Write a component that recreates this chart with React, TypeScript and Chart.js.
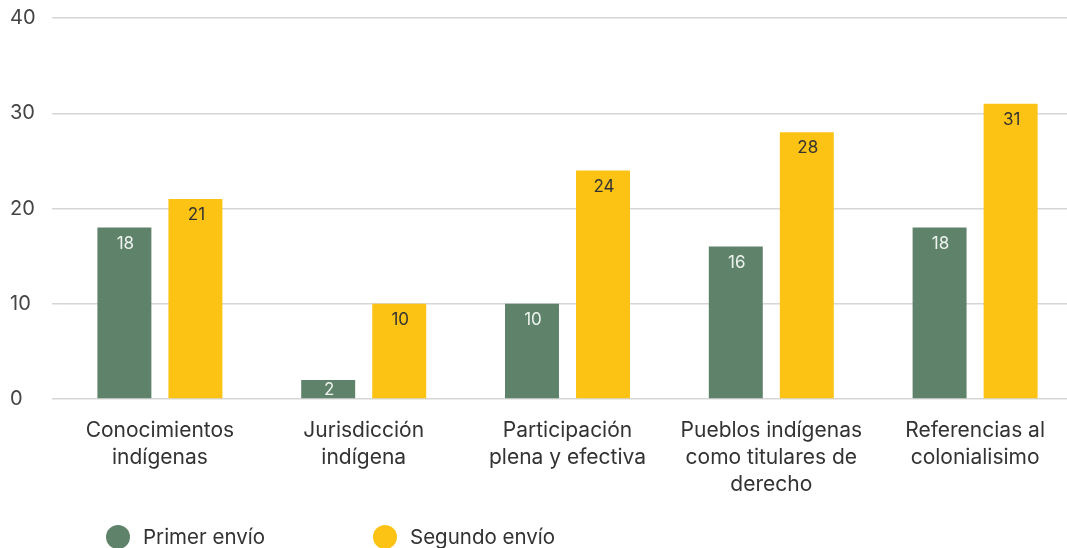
import React, { useEffect, useRef } from "react";
import { Chart, registerables } from "chart.js";

Chart.register(...registerables);

const categories: string[][] = [
  ["Conocimientos", "indígenas"],
  ["Jurisdicción", "indígena"],
  ["Participación", "plena y efectiva"],
  ["Pueblos indígenas", "como titulares de", "derecho"],
  ["Referencias al", "colonialisimo"],
];
const primerEnvio = [18, 2, 10, 16, 18];
const segundoEnvio = [21, 10, 24, 28, 31];
const seriesNames = ["Primer envío", "Segundo envío"];
const yTicks = [0, 10, 20, 30, 40];

const GREEN = "#5f836a";
const YELLOW = "#fdc314";
const FONT = "Inter, Roboto, 'Noto Sans', sans-serif";
const labelColors = ["#eef3ef", "#333333"];

const valueLabels = {
  id: "valueLabels",
  afterDatasetsDraw(chart: any) {
    const ctx = chart.ctx;
    ctx.save();
    ctx.font = `17px ${FONT}`;
    ctx.textAlign = "center";
    ctx.textBaseline = "middle";
    chart.data.datasets.forEach((ds: any, i: number) => {
      const meta = chart.getDatasetMeta(i);
      meta.data.forEach((bar: any, j: number) => {
        const top = bar.y;
        const base = bar.base;
        const y = Math.min(top + 16, (top + base) / 2 + 1);
        ctx.fillStyle = labelColors[i];
        ctx.fillText(String(ds.data[j]), bar.x + 1, y);
      });
    });
    ctx.restore();
  },
};

const customLegend = {
  id: "customLegend",
  afterDraw(chart: any) {
    const ctx = chart.ctx;
    const xs = [118, 385];
    const cy = 537;
    ctx.save();
    ctx.font = `20.5px ${FONT}`;
    ctx.textBaseline = "middle";
    ctx.textAlign = "left";
    chart.data.datasets.forEach((ds: any, i: number) => {
      ctx.fillStyle = ds.backgroundColor;
      ctx.beginPath();
      ctx.arc(xs[i], cy, 12, 0, Math.PI * 2);
      ctx.fill();
      ctx.fillStyle = "#333333";
      ctx.fillText(ds.label, xs[i] + 25, cy + 1);
    });
    ctx.restore();
  },
};

export default function App() {
  const ref = useRef<HTMLCanvasElement | null>(null);
  useEffect(() => {
    if (!ref.current) return;
    const chart = new Chart(ref.current, {
      type: "bar",
      data: {
        labels: categories,
        datasets: [
          {
            label: seriesNames[0],
            data: primerEnvio,
            backgroundColor: GREEN,
            categoryPercentage: 0.697,
            barPercentage: 0.76,
          },
          {
            label: seriesNames[1],
            data: segundoEnvio,
            backgroundColor: YELLOW,
            categoryPercentage: 0.697,
            barPercentage: 0.76,
          },
        ],
      },
      options: {
        animation: false,
        responsive: false,
        maintainAspectRatio: false,
        layout: { padding: { left: 10, top: 18, right: 0, bottom: 0 } },
        plugins: {
          legend: { display: false },
          tooltip: { enabled: false },
        },
        scales: {
          x: {
            grid: { display: false, drawTicks: false },
            border: { display: false },
            ticks: {
              color: "#333333",
              font: { family: FONT, size: 21, lineHeight: 1.29 },
              padding: 18,
              maxRotation: 0,
              autoSkip: false,
            },
            afterFit(scale: any) {
              scale.height = 149;
            },
          },
          y: {
            min: 0,
            max: 40,
            afterBuildTicks(scale: any) {
              scale.ticks = yTicks.map((v) => ({ value: v }));
            },
            grid: {
              color: "#d6d6d6",
              lineWidth: 1.5,
              drawTicks: true,
              tickLength: 6,
            },
            border: { display: false },
            ticks: {
              color: "#444444",
              crossAlign: "far",
              font: { family: FONT, size: 20 },
            },
            afterFit(scale: any) {
              scale.width = 48;
            },
          },
        },
      },
      plugins: [valueLabels, customLegend],
    });
    return () => chart.destroy();
  }, []);
  return (
    <div
      style={{
        position: "fixed",
        left: 0,
        top: 0,
        width: 1067,
        height: 548,
        overflow: "hidden",
        background: "#ffffff",
      }}
    >
      <canvas ref={ref} width={1077} height={548} style={{ display: "block" }} />
    </div>
  );
}
